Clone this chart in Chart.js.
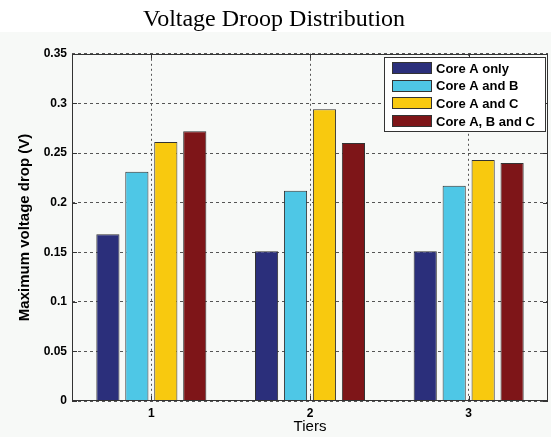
<!DOCTYPE html>
<html>
<head>
<meta charset="utf-8">
<script src="https://cdn.jsdelivr.net/npm/chart.js@4.4.1/dist/chart.umd.min.js"></script>
<style>
  html, body { margin: 0; padding: 0; background: #ffffff; }
  #wrap { width: 551px; height: 437px; }
</style>
</head>
<body>
<div id="wrap"><canvas id="droopChart" width="551" height="437"></canvas></div>
<script>
const tiers = ["1", "2", "3"];
const seriesNames = ["Core A only", "Core A and B", "Core A and C", "Core A, B and C"];
const coreAOnly = [0.168, 0.151, 0.151];
const coreAB = [0.231, 0.212, 0.217];
const coreAC = [0.261, 0.294, 0.243];
const coreABC = [0.272, 0.260, 0.240];
const yTickLabels = ["0", "0.05", "0.1", "0.15", "0.2", "0.25", "0.3", "0.35"];

const colors = ["#2b2f7b", "#4ec7e6", "#f8c90f", "#7e1518"];
const figBg = "#f7f9f7";

// figure background + box, inner ticks and floating legend (matlab look)
const matlabLook = {
    id: "matlabLook",
    beforeDraw(chart) {
        const c = chart.ctx;
        c.save();
        c.fillStyle = "#ffffff";
        c.fillRect(0, 0, chart.width, chart.height);
        c.fillStyle = figBg;
        c.fillRect(0, 32, chart.width, chart.height - 32);
        c.restore();
    },
    afterDraw(chart) {
        const c = chart.ctx;
        const a = chart.chartArea;
        const xs = chart.scales.x;
        const ys = chart.scales.y;
        c.save();
        c.strokeStyle = "#333333";
        c.lineWidth = 1;
        c.strokeRect(Math.round(a.left) + 0.5, Math.round(a.top) + 0.5,
            Math.round(a.right - a.left) - 1, Math.round(a.bottom - a.top) - 1);

        c.beginPath();
        ys.ticks.forEach(t => {
            const y = Math.round(ys.getPixelForValue(t.value)) + 0.5;
            c.moveTo(a.left, y); c.lineTo(a.left + 5, y);
            c.moveTo(a.right, y); c.lineTo(a.right - 5, y);
        });
        xs.ticks.forEach((t, i) => {
            const x = Math.round(xs.getPixelForTick(i)) + 0.5;
            c.moveTo(x, a.bottom); c.lineTo(x, a.bottom - 5);
            c.moveTo(x, a.top); c.lineTo(x, a.top + 5);
        });
        c.stroke();

        // legend box
        const lx = 384, ly = 57, lw = 162, lh = 75;
        c.fillStyle = "#ffffff";
        c.fillRect(lx, ly, lw, lh);
        c.strokeRect(lx + 0.5, ly + 0.5, lw - 1, lh - 1);
        c.font = "bold 13px 'Liberation Sans', Arial, sans-serif";
        c.textBaseline = "middle";
        chart.data.datasets.forEach((ds, i) => {
            const cy = ly + 11 + i * 17.7;
            c.fillStyle = ds.backgroundColor;
            c.fillRect(lx + 8, Math.round(cy - 6), 40, 12);
            c.strokeStyle = "#333333";
            c.strokeRect(lx + 8.5, Math.round(cy - 6) + 0.5, 39, 11);
            c.fillStyle = "#000000";
            c.fillText(ds.label, lx + 52, cy + 1);
        });
        c.restore();
    }
};

const seriesValues = [coreAOnly, coreAB, coreAC, coreABC];

new Chart(document.getElementById("droopChart"), {
    type: "bar",
    data: {
        labels: tiers,
        datasets: seriesValues.map((vals, i) => ({
            label: seriesNames[i],
            data: vals,
            backgroundColor: colors[i],
            borderColor: "#333333",
            borderWidth: 1,
            categoryPercentage: 0.73,
            barPercentage: 0.8
        }))
    },
    options: {
        responsive: false,
        animation: false,
        devicePixelRatio: 1,
        layout: { padding: { left: 0, right: 3, top: 0, bottom: 1 } },
        plugins: {
            legend: { display: false },
            tooltip: { enabled: false },
            title: {
                display: true,
                text: "Voltage Droop Distribution",
                color: "#000000",
                font: { family: "'Liberation Serif', 'Times New Roman', serif", size: 24, weight: "normal" },
                padding: { top: 5, bottom: 20 }
            }
        },
        scales: {
            x: {
                grid: { offset: false, color: "#555555", drawTicks: false, lineWidth: 1 },
                border: { display: false, dash: [2, 3] },
                ticks: {
                    color: "#000000",
                    padding: 5,
                    font: { family: "'Liberation Sans', Arial, sans-serif", size: 12, weight: "bold" }
                },
                title: {
                    display: true,
                    text: "Tiers",
                    color: "#000000",
                    padding: { top: 0, bottom: 0 },
                    font: { family: "'Liberation Sans', Arial, sans-serif", size: 15 }
                },
                afterFit(scale) { scale.height = 35; }
            },
            y: {
                min: 0,
                max: 0.35,
                grid: { color: "#555555", drawTicks: false, lineWidth: 1 },
                border: { display: false, dash: [3, 3] },
                ticks: {
                    stepSize: 0.05,
                    color: "#000000",
                    padding: 5,
                    font: { family: "'Liberation Sans', Arial, sans-serif", size: 12, weight: "bold" },
                    callback: (v, i) => yTickLabels[i]
                },
                title: {
                    display: true,
                    text: "Maximum voltage drop (V)",
                    color: "#000000",
                    padding: { top: 16, bottom: 0 },
                    font: { family: "'Liberation Sans', Arial, sans-serif", size: 15, weight: "bold" }
                },
                afterFit(scale) { scale.width = 72; }
            }
        }
    },
    plugins: [matlabLook]
});
</script>
</body>
</html>
